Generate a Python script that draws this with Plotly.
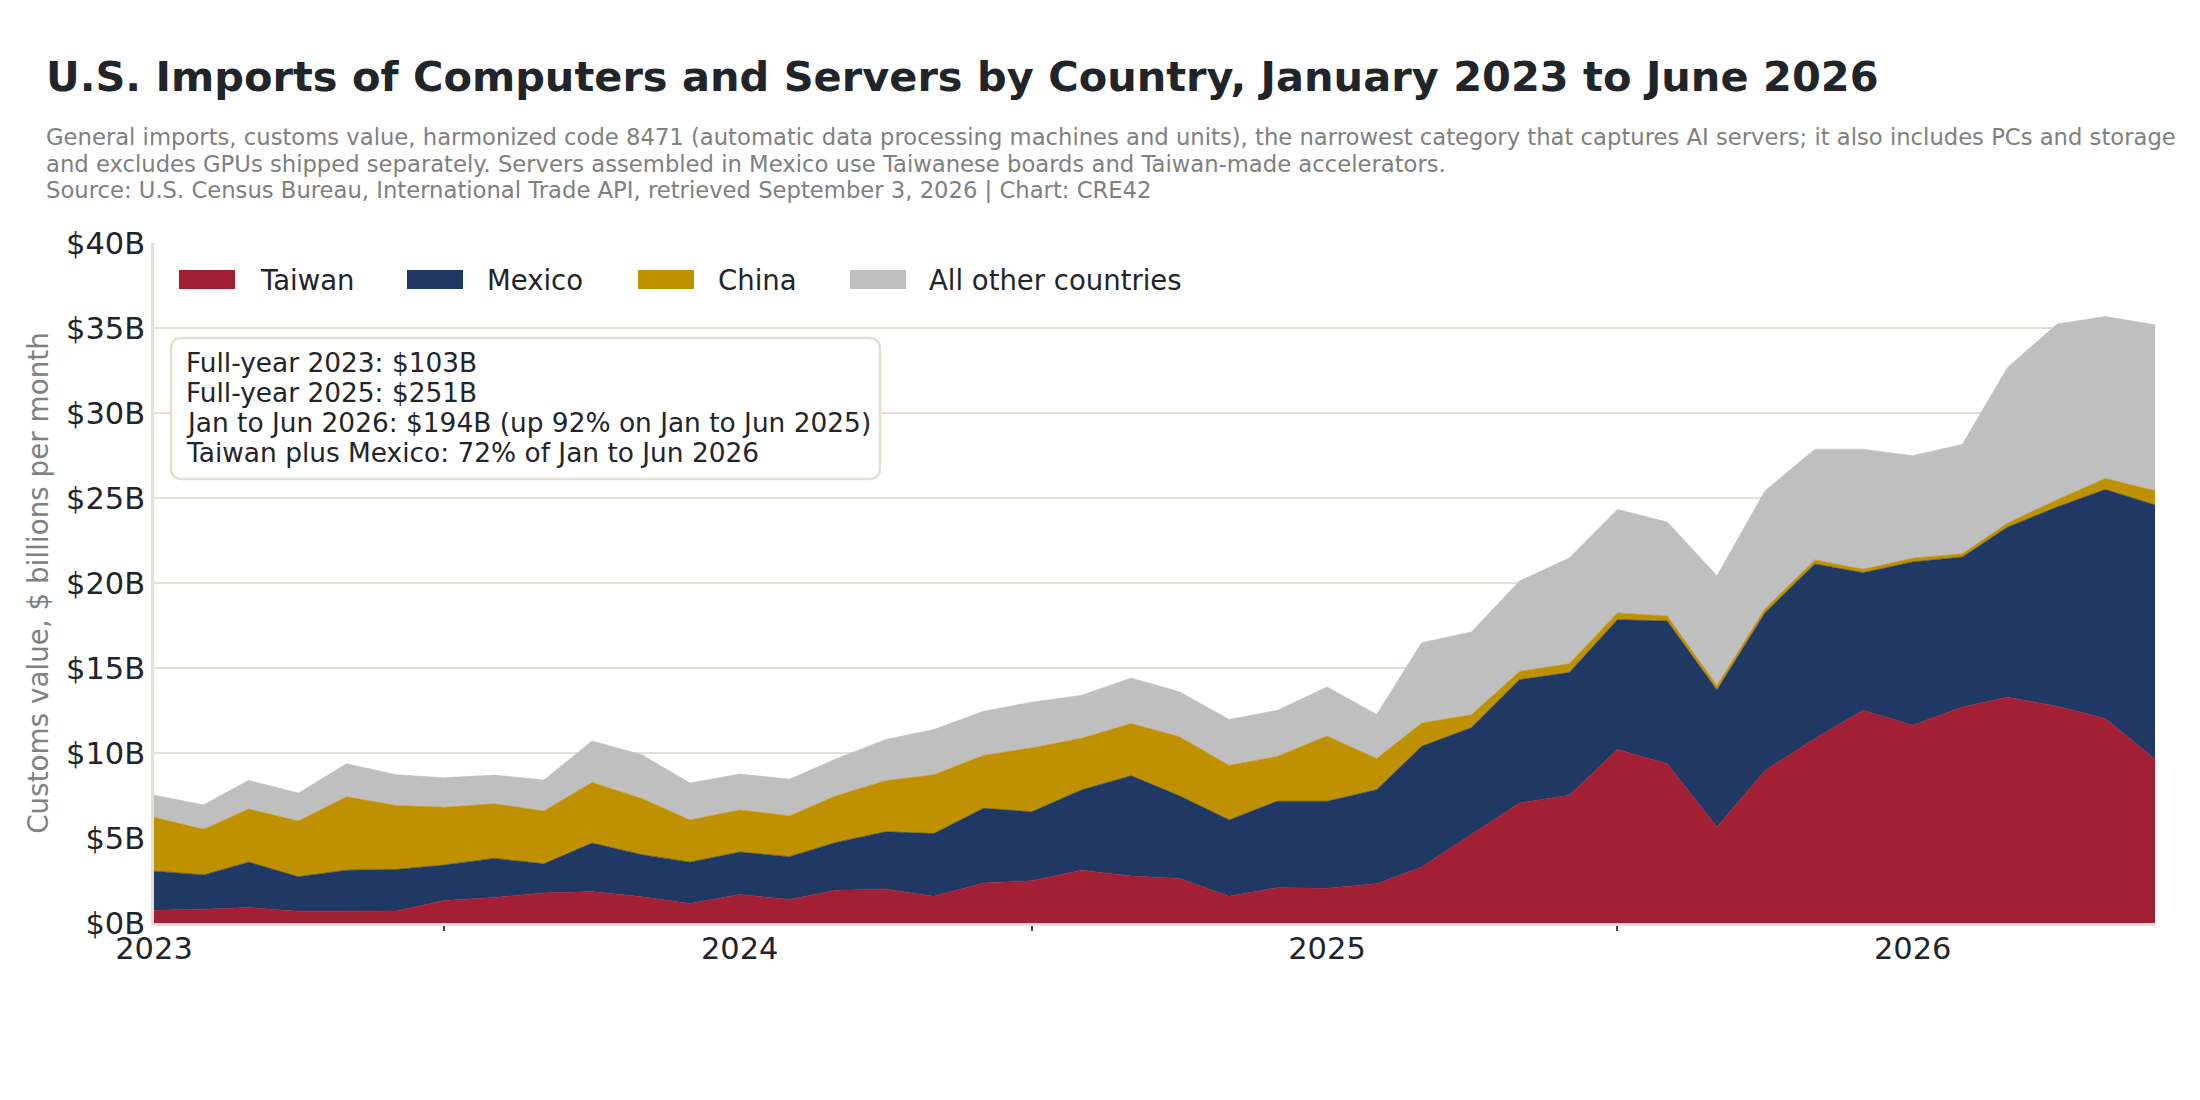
import plotly.graph_objects as go

# ---------------- data (US$ billions per month) ----------------
months = [
    "2023-01", "2023-02", "2023-03", "2023-04", "2023-05", "2023-06",
    "2023-07", "2023-08", "2023-09", "2023-10", "2023-11", "2023-12",
    "2024-01", "2024-02", "2024-03", "2024-04", "2024-05", "2024-06",
    "2024-07", "2024-08", "2024-09", "2024-10", "2024-11", "2024-12",
    "2025-01", "2025-02", "2025-03", "2025-04", "2025-05", "2025-06",
    "2025-07", "2025-08", "2025-09", "2025-10", "2025-11", "2025-12",
    "2026-01", "2026-02", "2026-03", "2026-04", "2026-05", "2026-06",
]
taiwan = [0.75, 0.81, 0.91, 0.69, 0.69, 0.71, 1.32, 1.50, 1.77, 1.85, 1.54, 1.14,
          1.67, 1.38, 1.93, 1.99, 1.57, 2.36, 2.48, 3.11, 2.76, 2.62, 1.57, 2.08,
          2.04, 2.31, 3.29, 5.20, 7.06, 7.51, 10.20, 9.37, 5.65, 8.97, 10.84, 12.51,
          11.63, 12.70, 13.28, 12.75, 12.03, 9.64]
mexico = [2.30, 2.02, 2.67, 2.03, 2.42, 2.44, 2.09, 2.30, 1.71, 2.85, 2.48, 2.44,
          2.50, 2.52, 2.81, 3.38, 3.69, 4.39, 4.06, 4.72, 5.90, 4.86, 4.49, 5.08,
          5.12, 5.53, 7.10, 6.29, 7.25, 7.22, 7.64, 8.39, 8.05, 9.28, 10.28, 8.09,
          9.61, 8.83, 10.00, 11.72, 13.47, 14.95]
china = [3.17, 2.68, 3.13, 3.28, 4.31, 3.76, 3.40, 3.21, 3.11, 3.57, 3.30, 2.48,
         2.48, 2.40, 2.74, 3.00, 3.46, 3.11, 3.76, 3.04, 3.07, 3.48, 3.21, 2.64,
         3.84, 1.83, 1.37, 0.76, 0.49, 0.52, 0.40, 0.30, 0.27, 0.24, 0.24, 0.21,
         0.22, 0.19, 0.24, 0.43, 0.65, 0.84]
other = [1.30, 1.44, 1.68, 1.64, 1.95, 1.81, 1.73, 1.69, 1.82, 2.44, 2.58, 2.17,
         2.11, 2.16, 2.17, 2.42, 2.66, 2.60, 2.69, 2.52, 2.68, 2.64, 2.70, 2.71,
         2.88, 2.60, 4.73, 4.87, 5.32, 6.22, 6.09, 5.53, 6.45, 6.94, 6.51, 7.06,
         6.03, 6.44, 9.14, 10.34, 9.52, 9.76]

series_names = ["Taiwan", "Mexico", "China", "All other countries"]
series_values = [taiwan, mexico, china, other]
series_colors = ["#A31F34", "#1F3864", "#BF9000", "#BFBFBF"]

title_text = "U.S. Imports of Computers and Servers by Country, January 2023 to June 2026"
subtitle_lines = [
    "General imports, customs value, harmonized code 8471 (automatic data processing machines and units), the narrowest category that captures AI servers; it also includes PCs and storage",
    "and excludes GPUs shipped separately. Servers assembled in Mexico use Taiwanese boards and Taiwan-made accelerators.",
    "Source: U.S. Census Bureau, International Trade API, retrieved September 3, 2026 | Chart: CRE42",
]
note_lines = [
    "Full-year 2023: $103B",
    "Full-year 2025: $251B",
    "Jan to Jun 2026: $194B (up 92% on Jan to Jun 2025)",
    "Taiwan plus Mexico: 72% of Jan to Jun 2026",
]
y_title = "Customs value, $ billions per month"

# ---------------- layout geometry (screen pixels; page has 8px body margin) ----------------
OFF = 8
W, H = 2200 - 2 * OFF, 1100 - 2 * OFF
L, R, T, B = 154 - OFF, 2155 - OFF, 243 - OFF, 923 - OFF
FONT = "DejaVu Sans"
GRID = "#E6E0D4"


def xp(px):
    return (px - OFF - L) / (R - L)


def yp(py):
    return (B - (py - OFF)) / (B - T)


fig = go.Figure()
for name, vals, col in zip(series_names, series_values, series_colors):
    fig.add_trace(go.Scatter(
        x=months, y=vals, name=name, mode="lines", stackgroup="one",
        line=dict(width=0.6, color=col), fillcolor=col, showlegend=False,
        hovertemplate="%{x|%b %Y}: $%{y:.2f}B<extra>" + name + "</extra>",
    ))

annotations = []
shapes = []

# title + subtitle
annotations.append(dict(text="<b>" + title_text + "</b>", xref="paper", yref="paper",
                        x=xp(44), y=yp(76), xanchor="left", yanchor="middle",
                        showarrow=False, font=dict(family=FONT, size=41.5, color="#212529")))
for line, cy in zip(subtitle_lines, [137, 164, 190]):
    annotations.append(dict(text=line, xref="paper", yref="paper",
                            x=xp(44), y=yp(cy), xanchor="left", yanchor="middle",
                            showarrow=False, font=dict(family=FONT, size=22.7, color="#808080")))

# legend (custom swatches)
leg_sw = [179, 407, 638, 850]
leg_tx = [258, 485, 716, 927]
for name, col, sx, tx in zip(series_names, series_colors, leg_sw, leg_tx):
    shapes.append(dict(type="rect", xref="paper", yref="paper",
                       x0=xp(sx), x1=xp(sx + 56), y0=yp(289), y1=yp(270),
                       fillcolor=col, line=dict(width=0)))
    annotations.append(dict(text=name, xref="paper", yref="paper",
                            x=xp(tx), y=yp(280), xanchor="left", yanchor="middle",
                            showarrow=False, font=dict(family=FONT, size=27.5, color="#212529")))

# rounded note box
bx0, bx1, by0, by1, r = 171, 880, 338, 479, 11
rx, ry = r / (R - L), r / (B - T)
X0, X1, Y0, Y1 = xp(bx0), xp(bx1), yp(by1), yp(by0)
path = (f"M{X0 + rx},{Y1} L{X1 - rx},{Y1} Q{X1},{Y1} {X1},{Y1 - ry} "
        f"L{X1},{Y0 + ry} Q{X1},{Y0} {X1 - rx},{Y0} L{X0 + rx},{Y0} "
        f"Q{X0},{Y0} {X0},{Y0 + ry} L{X0},{Y1 - ry} Q{X0},{Y1} {X0 + rx},{Y1} Z")
shapes.append(dict(type="path", xref="paper", yref="paper", path=path,
                   fillcolor="white", line=dict(color=GRID, width=2.5), layer="above"))
for line, cy in zip(note_lines, [362, 392, 422, 452]):
    annotations.append(dict(text=line, xref="paper", yref="paper",
                            x=xp(184), y=yp(cy), xanchor="left", yanchor="middle",
                            showarrow=False, font=dict(family=FONT, size=26.4, color="#212529")))

fig.update_layout(
    width=W, height=H,
    margin=dict(l=L, r=W - R, t=T, b=H - B, autoexpand=False),
    paper_bgcolor="white", plot_bgcolor="white",
    font=dict(family=FONT, size=28, color="#212529"),
    showlegend=False,
    annotations=annotations, shapes=shapes,
    xaxis=dict(
        type="date", range=["2023-01-01", "2026-06-01"],
        tick0="2023-01-01", dtick="M12", tickformat="%Y",
        ticks="", showgrid=False,
        showline=True, linecolor=GRID, linewidth=2.5,
        tickfont=dict(family=FONT, size=30.5, color="#212529"),
        minor=dict(dtick="M6", tick0="2023-07-01", ticks="outside", ticklen=5,
                   tickwidth=1.5, tickcolor="#444444", showgrid=False),
        ticklabelstandoff=-3,
        fixedrange=True,
    ),
    yaxis=dict(
        range=[0, 40], dtick=5, tickprefix="$", ticksuffix="B",
        showgrid=True, gridcolor=GRID, gridwidth=2,
        showline=True, linecolor=GRID, linewidth=2.5,
        zeroline=False, ticks="",
        tickfont=dict(family=FONT, size=30.5, color="#212529"),
        title=dict(text=y_title, font=dict(family=FONT, size=27.8, color="#808080"), standoff=10),
        fixedrange=True,
    ),
)

fig.write_html("out.html")
